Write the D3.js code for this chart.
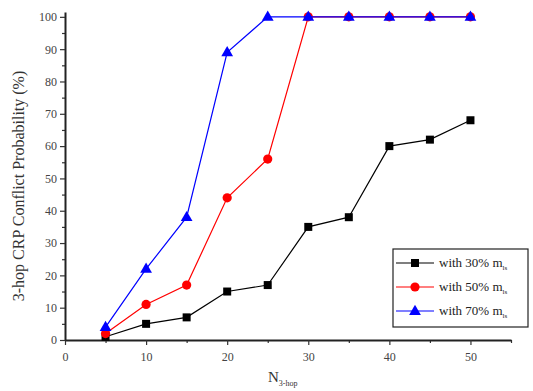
<!DOCTYPE html>
<html>
<head>
<meta charset="utf-8">
<script src="https://cdn.jsdelivr.net/npm/d3@7"></script>
<style>
  body { margin: 0; background: #fff; }
  text { font-family: "Liberation Serif", "Times New Roman", serif; }
</style>
</head>
<body>
<div id="chart"></div>
<script>
var xVals = [5, 10, 15, 20, 25, 30, 35, 40, 45, 50];
var s30 = [1, 5, 7, 15, 17, 35, 38, 60, 62, 68];
var s50 = [2, 11, 17, 44, 56, 100, 100, 100, 100, 100];
var s70 = [4, 22, 38, 89, 100, 100, 100, 100, 100, 100];
var seriesNames = ['with 30% m', 'with 50% m', 'with 70% m'];
var seriesColors = ['#000000', '#ff0000', '#0000ff'];
var seriesShapes = ['square', 'circle', 'triangle'];
var xTicks = [0, 10, 20, 30, 40, 50];
var yTicks = [0, 10, 20, 30, 40, 50, 60, 70, 80, 90, 100];

var w = 533, h = 391;
var svg = d3.select('#chart').append('svg')
  .attr('width', w)
  .attr('height', h);

var x = d3.scaleLinear().domain([0, 55]).range([65, 511]);
var y = d3.scaleLinear().domain([0, 101.5]).range([340, 12]);

// minor ticks
var gx = svg.append('g').attr('transform', 'translate(0,340)');
gx.call(d3.axisBottom(x).tickValues(d3.range(5, 56, 10)).tickSize(3).tickFormat(''))
gx.selectAll('path').remove();
var gxMaj = svg.append('g').attr('transform', 'translate(0,340)')
  .call(d3.axisBottom(x).tickValues(xTicks).tickSize(5).tickSizeOuter(0));
var gy = svg.append('g').attr('transform', 'translate(65,0)');
gy.call(d3.axisLeft(y).tickValues(d3.range(5, 100, 10)).tickSize(3).tickFormat(''));
gy.selectAll('path').remove();
var gyMaj = svg.append('g').attr('transform', 'translate(65,0)')
  .call(d3.axisLeft(y).tickValues(yTicks).tickSize(5).tickSizeOuter(0));

svg.selectAll('.domain').attr('stroke', '#222').attr('stroke-width', 2);
svg.selectAll('.tick line').attr('stroke', '#333').attr('stroke-width', 1.2);
svg.selectAll('g').attr('font-family', null);
svg.selectAll('.tick text')
  .style('font-family', '"Liberation Serif", serif')
  .style('font-size', '12px')
  .attr('fill', '#444');
gxMaj.selectAll('.tick text').attr('dy', '1.1em');

// axis titles
svg.append('text')
  .attr('transform', 'translate(24,186) rotate(-90)')
  .attr('text-anchor', 'middle')
  .style('font-size', '16px')
  .attr('fill', '#333')
  .text('3-hop CRP Conflict Probability (%)');

var xt = svg.append('text')
  .attr('x', 268)
  .attr('y', 382)
  .style('font-size', '15px')
  .attr('fill', '#333');
xt.append('tspan').text('N');
xt.append('tspan').attr('dy', 4).style('font-size', '8px').text('3-hop');

var allSeries = [s30, s50, s70];
var line = d3.line().x(function(d, i) { return x(xVals[i]); }).y(function(d) { return y(d); });

function drawMarker(g, shape, cx, cy, color) {
  if (shape === 'square') {
    g.append('rect').attr('x', cx - 4).attr('y', cy - 4).attr('width', 8).attr('height', 8).attr('fill', color);
  } else if (shape === 'circle') {
    g.append('circle').attr('cx', cx).attr('cy', cy).attr('r', 4.6).attr('fill', color);
  } else {
    g.append('path').attr('d', d3.symbol().type(d3.symbolTriangle).size(60)()).attr('transform', 'translate(' + cx + ',' + (cy + 0.5) + ')').attr('fill', color);
  }
}

allSeries.forEach(function(s, k) {
  var g = svg.append('g');
  g.append('path').datum(s)
    .attr('d', line)
    .attr('fill', 'none')
    .attr('stroke', seriesColors[k])
    .attr('stroke-width', 1.2);
  s.forEach(function(v, i) {
    drawMarker(g, seriesShapes[k], x(xVals[i]), y(v), seriesColors[k]);
  });
});

// legend
var lg = svg.append('g');
lg.append('rect')
  .attr('x', 393).attr('y', 249).attr('width', 135).attr('height', 78)
  .attr('fill', '#fff').attr('stroke', '#222').attr('stroke-width', 1.2);
seriesNames.forEach(function(name, k) {
  var ly = 263 + k * 24;
  lg.append('line').attr('x1', 396).attr('x2', 434).attr('y1', ly).attr('y2', ly)
    .attr('stroke', seriesColors[k]).attr('stroke-width', 1.2);
  drawMarker(lg, seriesShapes[k], 415, ly, seriesColors[k]);
  var t = lg.append('text').attr('x', 439).attr('y', ly + 4)
    .style('font-size', '13px').attr('fill', '#222');
  t.append('tspan').text(name);
  t.append('tspan').attr('dy', 3).style('font-size', '7px').text('ls');
});
</script>
</body>
</html>
